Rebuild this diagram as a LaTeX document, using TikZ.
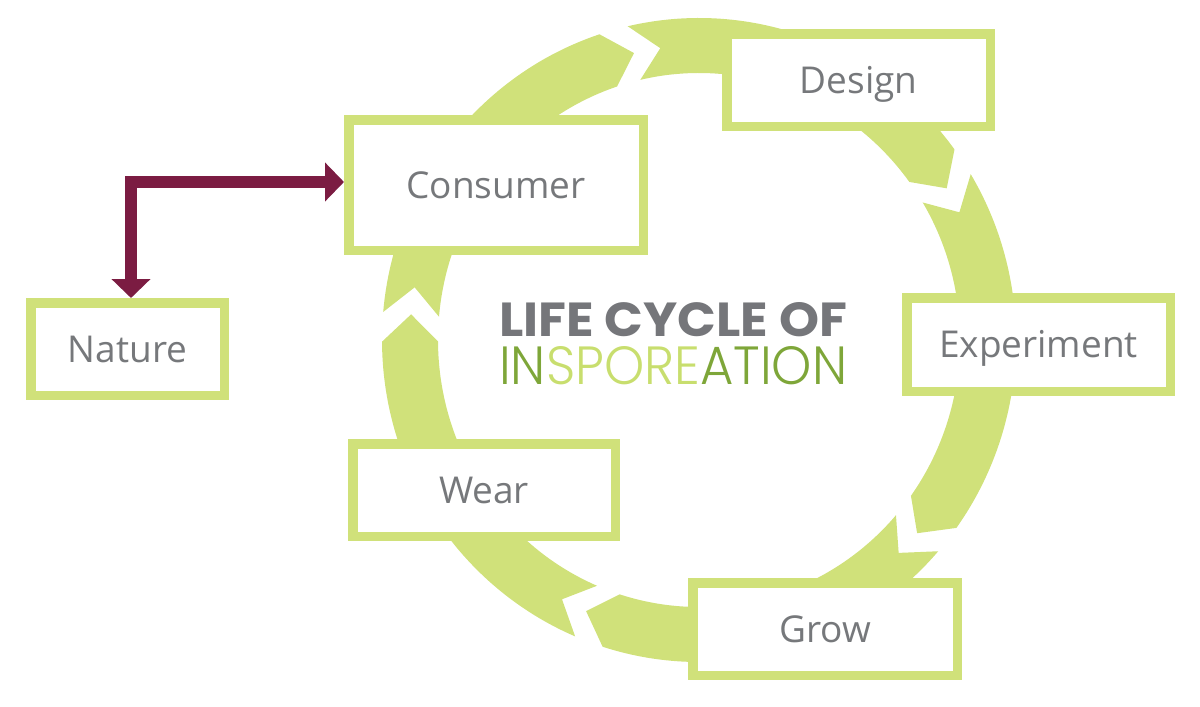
\documentclass[tikz,border=0pt]{standalone}
\usepackage{fontspec}
\usepackage{graphicx}
\usetikzlibrary{arrows.meta}
\setmainfont{Open Sans}
\newfontfamily\titlebold{Poppins}[UprightFont={* Bold}]
\newfontfamily\titlelight{Poppins}[UprightFont={* Light}]
\definecolor{ringgreen}{HTML}{D0E17A}
\definecolor{boxtext}{HTML}{76787B}
\definecolor{titlegray}{HTML}{75767A}
\definecolor{darkgreen}{HTML}{7EA639}
\definecolor{lightgreen}{HTML}{C8DE6E}
\definecolor{maroon}{HTML}{7B1C42}
\tikzset{
  ringseg/.style={fill=ringgreen},
  box/.style={draw=ringgreen, line width=9.5pt, fill=white, inner sep=0pt,
    text=boxtext, font=\fontsize{37}{40}\selectfont,
    text height=26.5pt, text depth=0pt},
  link/.style={draw=maroon, line width=12pt,
    {Triangle[width=38pt,length=19pt]}-{Triangle[width=38pt,length=19pt]}}
}
\begin{document}
\begin{tikzpicture}[x=1pt,y=1pt]
\useasboundingbox (0,0) rectangle (1200,-707);
% ring of chevron arrows
\begin{scope}[shift={(699,-340)}]
\foreach \a in {103,31,-41,-113,-185}{
  \pgfmathsetmacro\b{\a-72+5.3}
  \pgfmathsetmacro\t{\a-72}
  \pgfmathsetmacro\n{\a-5.3}
  \fill[ringseg] (\a:317pt and 322pt)
    arc[start angle=\a, end angle=\b, x radius=317pt, y radius=322pt]
    -- (\t:289pt and 294.5pt) -- (\b:261pt and 267pt)
    arc[start angle=\b, end angle=\a, x radius=261pt, y radius=267pt]
    -- (\n:289pt and 294.5pt) -- cycle;
}
\end{scope}
% boxes
\node[box, minimum width=294.5pt, minimum height=130.5pt] (consumer) at (496,-185) {Consumer};
\node[box, minimum width=263.5pt, minimum height=92.5pt] (design) at (858.5,-80) {Design};
\node[box, minimum width=263.5pt, minimum height=93.5pt] (experiment) at (1038.5,-344.5) {Experiment};
\node[box, minimum width=264.5pt, minimum height=92.5pt] (grow) at (825,-629) {Grow};
\node[box, minimum width=262.5pt, minimum height=92.5pt] (wear) at (484,-490) {Wear};
\node[box, minimum width=193.5pt, minimum height=92.5pt] (nature) at (127.5,-349) {Nature};
% maroon connector
\draw[link] ([xshift=3.5pt]nature.north) |- ([yshift=3pt]consumer.west);
% title
\node[anchor=base west, inner sep=0pt, text=titlegray] (title1) at (499,-336)
  {\resizebox{348pt}{34pt}{\titlebold LIFE CYCLE OF}};
\node[anchor=base west, inner sep=0pt] (title2) at (499,-384)
  {\resizebox{348pt}{38pt}{\titlelight\textcolor{darkgreen}{IN}\textcolor{lightgreen}{SPORE}\textcolor{darkgreen}{ATION}}};
\end{tikzpicture}
\end{document}
